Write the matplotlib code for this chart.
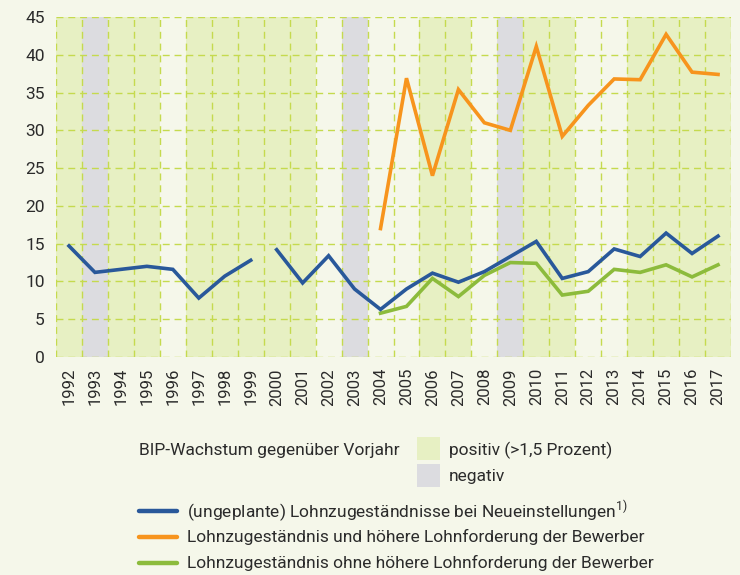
import numpy as np
import matplotlib
matplotlib.use('Agg')
import matplotlib.pyplot as plt
from matplotlib.lines import Line2D
from matplotlib.patches import Rectangle

# ------------------------------------------------------------------
# Data
# ------------------------------------------------------------------
years = list(range(1992, 2018))

# BIP-Wachstum: 'p' positiv (>1,5 %), 'n' negativ, 'o' dazwischen
gdp_class = ['p', 'n', 'p', 'p', 'o', 'p', 'p', 'p', 'p', 'p',
             'o', 'n', 'o', 'o', 'p', 'p', 'o', 'n', 'p', 'p',
             'o', 'o', 'p', 'p', 'p', 'p']

# (ungeplante) Lohnzugeständnisse bei Neueinstellungen, split at gap
blue_years_a = [1992, 1993, 1994, 1995, 1996, 1997, 1998, 1999]
blue_vals_a = [14.7, 11.2, 11.6, 12.0, 11.6, 7.8, 10.7, 12.8]
blue_years_b = list(range(2000, 2018))
blue_vals_b = [14.2, 9.8, 13.4, 9.0, 6.3, 9.0, 11.1, 9.9, 11.3, 13.3,
               15.3, 10.4, 11.3, 14.3, 13.3, 16.4, 13.7, 16.0]

# Lohnzugeständnis und höhere Lohnforderung der Bewerber
orange_years = list(range(2004, 2018))
orange_vals = [17.0, 36.9, 24.0, 35.4, 31.0, 30.0, 41.1, 29.2, 33.3,
               36.8, 36.7, 42.7, 37.7, 37.4]

# Lohnzugeständnis ohne höhere Lohnforderung der Bewerber
green_years = list(range(2004, 2018))
green_vals = [5.8, 6.7, 10.4, 8.0, 10.8, 12.5, 12.4, 8.2, 8.7,
              11.6, 11.2, 12.2, 10.6, 12.2]

# ------------------------------------------------------------------
# Style
# ------------------------------------------------------------------
C_BG = '#f5f7ea'
C_POS = '#e7f0c3'
C_NEG = '#dcdce0'
C_GRID = '#c5da4e'
C_BLUE = '#29589a'
C_ORANGE = '#f7941d'
C_GREEN = '#8cbb3c'
C_TEXT = '#2b2b2b'

LEG_FONT = ['Roboto', 'DejaVu Sans']
TICK_FONT = ['Roboto', 'DejaVu Sans']

W, H = 740, 575
fig = plt.figure(figsize=(W / 100, H / 100), dpi=100, facecolor=C_BG)
ax = fig.add_axes([56 / W, 1 - 357 / H, 675 / W, 340 / H])
ax.set_facecolor(C_BG)

band_col = {'p': C_POS, 'n': C_NEG}
for yr, cl in zip(years, gdp_class):
    if cl in band_col:
        ax.axvspan(yr - 0.5, yr + 0.5, color=band_col[cl], lw=0, zorder=0)

dash = (0, (5, 3.5))
for yr in years + [years[-1] + 1]:
    ax.axvline(yr - 0.5, color=C_GRID, lw=1.0, ls=dash, zorder=1)
for v in range(0, 50, 5):
    ax.axhline(v, color=C_GRID, lw=1.0, ls=dash, zorder=1)

lw = 2.6
ax.plot(blue_years_a, blue_vals_a, color=C_BLUE, lw=lw, zorder=3,
        solid_joinstyle='miter')
ax.plot(blue_years_b, blue_vals_b, color=C_BLUE, lw=lw, zorder=3,
        solid_joinstyle='miter')
ax.plot(orange_years, orange_vals, color=C_ORANGE, lw=lw, zorder=3,
        solid_joinstyle='miter')
ax.plot(green_years, green_vals, color=C_GREEN, lw=lw, zorder=2,
        solid_joinstyle='miter')

ax.set_xlim(years[0] - 0.5, years[-1] + 0.5)
ax.set_ylim(0, 45)
ax.set_yticks(range(0, 50, 5))
ax.set_xticks(years)
ax.set_xticklabels([str(y) for y in years], rotation=90,
                   family=TICK_FONT, fontsize=12, color=C_TEXT)
ax.set_yticklabels([str(v) for v in range(0, 50, 5)],
                   family=TICK_FONT, fontsize=12.5, color=C_TEXT)
ax.tick_params(length=0, pad=8)
for s in ax.spines.values():
    s.set_visible(False)


# ------------------------------------------------------------------
# Legend (placed in figure pixels, y measured from top)
# ------------------------------------------------------------------
def fy(py):
    return 1 - py / H


fs = 12.5
fig.text(139 / W, fy(450), 'BIP-Wachstum gegenüber Vorjahr', ha='left',
         va='center', fontsize=fs, family=LEG_FONT, color=C_TEXT)
fig.patches.append(Rectangle((417 / W, fy(460)), 23 / W, 23 / H,
                             transform=fig.transFigure, color=C_POS,
                             lw=0))
fig.patches.append(Rectangle((417 / W, fy(487)), 23 / W, 23 / H,
                             transform=fig.transFigure, color=C_NEG,
                             lw=0))
fig.text(449 / W, fy(450), 'positiv (>1,5 Prozent)', ha='left',
         va='center', fontsize=fs, family=LEG_FONT, color=C_TEXT)
fig.text(449 / W, fy(476), 'negativ', ha='left', va='center',
         fontsize=fs, family=LEG_FONT, color=C_TEXT)

series_leg = [
    (C_BLUE, '(ungeplante) Lohnzugeständnisse bei Neueinstellungen'
             r'$^{\mathregular{1)}}$', 511),
    (C_ORANGE, 'Lohnzugeständnis und höhere Lohnforderung der Bewerber', 537),
    (C_GREEN, 'Lohnzugeständnis ohne höhere Lohnforderung der Bewerber', 563),
]
for col, lab, py in series_leg:
    fig.add_artist(Line2D([139 / W, 177 / W], [fy(py), fy(py)],
                          transform=fig.transFigure, color=col, lw=3.2,
                          solid_capstyle='round'))
    fig.text(187 / W, fy(py), lab, ha='left', va='center', fontsize=fs,
             family=LEG_FONT, color=C_TEXT)

fig.savefig('out.png', dpi=100, facecolor=C_BG)
